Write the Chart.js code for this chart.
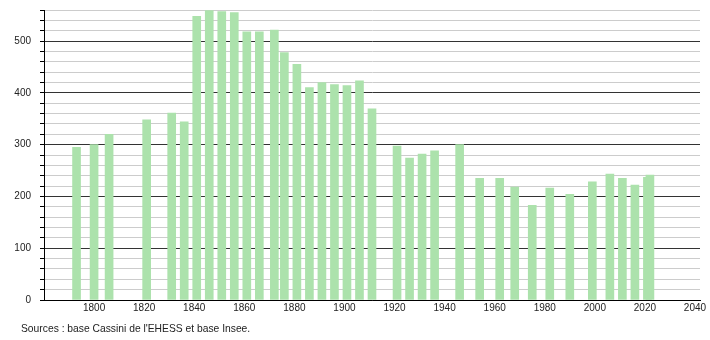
<!DOCTYPE html>
<html lang="fr">
<head>
    <meta charset="UTF-8">
    <title>Évolution de la population</title>
    <script src="https://cdn.jsdelivr.net/npm/chart.js"></script>
    <style>
        body {
            margin: 0;
            background-color: #ffffff;
        }
        #wrap {
            position: relative;
            width: 710px;
            height: 340px;
        }
        #source {
            position: absolute;
            left: 21px;
            top: 323px;
            font-family: 'Liberation Sans', Arial, sans-serif;
            font-size: 10.3px;
            color: #222;
            white-space: nowrap;
        }
    </style>
</head>
<body>
    <div id="wrap">
        <canvas id="popChart" width="710" height="340"></canvas>
        <div id="source"></div>
    </div>
    <script>
        const years = [1793, 1800, 1806, 1821, 1831, 1836, 1841, 1846, 1851, 1856,
            1861, 1866, 1872, 1876, 1881, 1886, 1891, 1896, 1901, 1906,
            1911, 1921, 1926, 1931, 1936, 1946, 1954, 1962, 1968, 1975,
            1982, 1990, 1999, 2006, 2011, 2016, 2021, 2022];
        const population = [295, 300, 320, 348, 361, 344, 548, 559, 557, 555,
            518, 518, 521, 478, 455, 410, 420, 416, 414, 423,
            369, 297, 274, 282, 288, 300, 235, 235, 218, 183,
            216, 204, 228, 243, 235, 222, 237, 241];
        const yearTicks = [1800, 1820, 1840, 1860, 1880, 1900, 1920, 1940, 1960, 1980, 2000, 2020, 2040];
        const sourceText = "Sources : base Cassini de l'EHESS et base Insee.";

        document.getElementById("source").textContent = sourceText;

        const points = years.map((y, i) => ({ x: y, y: population[i] }));

        Chart.defaults.font.family = "'Liberation Sans', Arial, sans-serif";
        Chart.defaults.font.size = 10;
        Chart.defaults.color = "#222";

        new Chart(document.getElementById("popChart"), {
            type: "bar",
            data: {
                datasets: [{
                    label: "Population",
                    data: points,
                    backgroundColor: "rgb(172, 226, 172)",
                    borderWidth: 0,
                    barThickness: 8
                }]
            },
            options: {
                responsive: false,
                animation: false,
                layout: {
                    padding: { left: 0, right: 10, top: 10, bottom: 22 }
                },
                plugins: {
                    legend: { display: false },
                    tooltip: { enabled: false }
                },
                scales: {
                    x: {
                        type: "linear",
                        min: 1780,
                        max: 2042,
                        offset: false,
                        grid: { display: false, drawTicks: false },
                        border: { color: "#000", width: 1 },
                        ticks: {
                            padding: 2,
                            maxRotation: 0,
                            autoSkip: false,
                            callback: v => String(v)
                        },
                        afterBuildTicks: scale => {
                            scale.ticks = yearTicks.map(v => ({ value: v }));
                        },
                        afterFit: scale => {
                            scale.height = 18;
                            scale.paddingLeft = 0;
                            scale.paddingRight = 0;
                        }
                    },
                    y: {
                        min: 0,
                        max: 560,
                        border: { color: "#000", width: 1 },
                        grid: {
                            color: ctx => (ctx.tick && ctx.tick.value % 100 === 0) ? "#333" : "#ccc",
                            tickColor: "#000",
                            tickLength: 4
                        },
                        ticks: {
                            stepSize: 20,
                            padding: 9,
                            autoSkip: false,
                            callback: v => v % 100 === 0 ? String(v) : ""
                        },
                        afterFit: scale => {
                            scale.width = 44;
                            scale.paddingTop = 0;
                            scale.paddingBottom = 0;
                        }
                    }
                }
            }
        });
    </script>
</body>
</html>
